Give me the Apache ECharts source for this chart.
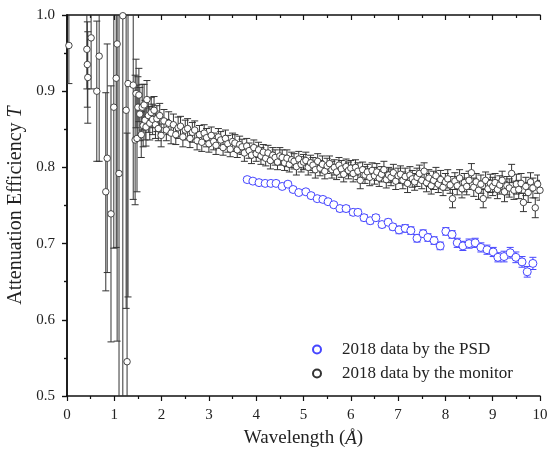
<!DOCTYPE html>
<html><head><meta charset="utf-8">
<script src="https://cdn.jsdelivr.net/npm/echarts@6/dist/echarts.min.js"></script>
<style>html,body{margin:0;padding:0;background:#fff}#c{width:551px;height:452px}</style>
</head><body><div id="c"></div>
<script>
// ---- data ----
const monitorX = [
  0.04,0.42,0.43,0.44,0.51,0.63,0.68,0.82,0.85,0.93,0.99,1.04,1.06,1.10,1.18,1.25,1.27,1.29,
  1.40,1.44,1.46,1.48,1.50,1.52,1.54,1.57,1.59,1.61,1.63,1.65,1.67,1.69,1.72,1.75,1.78,1.81,1.84,1.87,1.90,1.93,1.96,1.99,
  2.05,2.10,2.15,2.20,2.25,2.30,2.35,2.40,2.45,2.50,
  2.55,2.60,2.65,2.70,2.75,2.80,2.85,2.90,2.95,3.00,
  3.05,3.10,3.15,3.20,3.25,3.30,3.35,3.40,3.45,3.50,
  3.55,3.60,3.65,3.70,3.75,3.80,3.85,3.90,3.95,4.00,
  4.05,4.10,4.15,4.20,4.25,4.30,4.35,4.40,4.45,4.50,
  4.55,4.60,4.65,4.70,4.75,4.80,4.85,4.90,4.95,5.00,
  5.05,5.10,5.15,5.20,5.25,5.30,5.35,5.40,5.45,5.50,
  5.55,5.60,5.65,5.70,5.75,5.80,5.85,5.90,5.95,6.00,
  6.05,6.10,6.15,6.20,6.25,6.30,6.35,6.40,6.45,6.50,
  6.55,6.60,6.65,6.70,6.75,6.80,6.85,6.90,6.95,7.00,
  7.05,7.10,7.15,7.20,7.25,7.30,7.35,7.40,7.45,7.50,
  7.55,7.60,7.65,7.70,7.75,7.80,7.85,7.90,7.95,8.00,
  8.05,8.10,8.15,8.20,8.25,8.30,8.35,8.40,8.45,8.50,
  8.55,8.60,8.65,8.70,8.75,8.80,8.85,8.90,8.95,9.00,
  9.05,9.10,9.15,9.20,9.25,9.30,9.35,9.40,9.45,9.50,
  9.55,9.60,9.65,9.70,9.75,9.80,9.85,9.90,9.95,10.00
];
const monitorY = [
  0.960,0.955,0.935,0.918,0.970,0.900,0.946,0.768,0.812,0.739,0.879,0.917,0.962,0.792,0.999,0.875,0.545,0.910,
  0.908,0.836,0.897,0.838,0.879,0.895,0.870,0.843,0.879,0.855,0.882,0.862,0.853,0.889,0.868,0.858,0.872,0.863,0.875,0.856,0.864,0.851,0.868,0.842,
  0.861,0.849,0.858,0.845,0.856,0.843,0.852,0.854,0.840,0.849,
  0.851,0.838,0.846,0.849,0.835,0.843,0.833,0.845,0.839,0.831,
  0.842,0.834,0.829,0.840,0.836,0.826,0.838,0.831,0.824,0.834,
  0.832,0.823,0.830,0.827,0.819,0.828,0.822,0.816,0.826,0.818,
  0.823,0.815,0.820,0.812,0.819,0.809,0.816,0.813,0.807,0.815,
  0.813,0.806,0.812,0.804,0.810,0.808,0.801,0.811,0.804,0.807,
  0.809,0.800,0.806,0.803,0.797,0.808,0.799,0.804,0.795,0.802,
  0.805,0.797,0.800,0.794,0.803,0.798,0.791,0.801,0.796,0.799,
  0.792,0.800,0.795,0.783,0.797,0.790,0.794,0.787,0.796,0.789,
  0.794,0.786,0.791,0.797,0.784,0.790,0.787,0.793,0.782,0.789,
  0.791,0.783,0.788,0.779,0.790,0.785,0.781,0.787,0.792,0.783,
  0.795,0.780,0.786,0.776,0.783,0.789,0.778,0.784,0.774,0.781,
  0.785,0.777,0.759,0.782,0.776,0.786,0.772,0.780,0.775,0.783,
  0.793,0.774,0.781,0.770,0.778,0.759,0.783,0.772,0.779,0.775,
  0.780,0.771,0.777,0.783,0.768,0.776,0.773,0.792,0.770,0.778,
  0.771,0.779,0.754,0.775,0.767,0.781,0.773,0.747,0.778,0.770
];
const monitorErr = [
  0.050,0.052,0.056,0.060,0.067,0.092,0.138,0.130,0.150,0.168,0.185,0.222,0.390,0.300,0.600,0.260,0.300,0.280,
  0.150,0.085,0.045,0.070,0.040,0.035,0.035,0.030,0.030,0.028,0.027,0.026,0.025,0.025,0.022,0.022,0.020,0.020,0.018,0.018,0.017,0.016,0.016,0.015,
  0.015,0.014,0.015,0.014,0.014,0.013,0.014,0.013,0.013,0.013,
  0.013,0.012,0.013,0.012,0.012,0.012,0.012,0.011,0.012,0.011,
  0.011,0.011,0.012,0.011,0.011,0.010,0.011,0.011,0.010,0.011,
  0.011,0.010,0.011,0.010,0.011,0.010,0.010,0.011,0.010,0.010,
  0.010,0.011,0.010,0.010,0.010,0.011,0.010,0.010,0.010,0.011,
  0.010,0.010,0.011,0.010,0.010,0.010,0.011,0.010,0.010,0.010,
  0.011,0.010,0.010,0.010,0.011,0.010,0.010,0.011,0.010,0.010,
  0.010,0.011,0.010,0.010,0.010,0.011,0.010,0.010,0.011,0.010,
  0.011,0.010,0.011,0.011,0.010,0.011,0.010,0.011,0.010,0.011,
  0.011,0.011,0.010,0.011,0.011,0.010,0.011,0.011,0.011,0.010,
  0.011,0.011,0.011,0.012,0.011,0.011,0.011,0.012,0.011,0.011,
  0.011,0.012,0.011,0.011,0.012,0.011,0.011,0.012,0.011,0.011,
  0.012,0.011,0.012,0.011,0.012,0.011,0.012,0.012,0.011,0.012,
  0.012,0.012,0.011,0.012,0.012,0.012,0.011,0.012,0.012,0.012,
  0.012,0.012,0.012,0.012,0.013,0.012,0.012,0.012,0.012,0.013,
  0.012,0.013,0.012,0.012,0.013,0.012,0.013,0.013,0.012,0.013
];
const psdX = [
  3.81,3.93,4.06,4.19,4.31,4.42,4.55,4.67,4.78,4.90,5.05,5.16,5.29,5.41,5.52,5.64,5.77,5.90,6.05,6.15,
  6.28,6.41,6.53,6.66,6.79,6.89,7.02,7.15,7.27,7.40,7.53,7.63,7.76,7.89,8.01,8.14,8.25,8.37,8.50,8.63,
  8.75,8.88,9.01,9.11,9.24,9.37,9.49,9.62,9.73,9.85
];
const psdY = [
  0.784,0.782,0.780,0.779,0.779,0.779,0.775,0.778,0.771,0.767,0.768,0.763,0.759,0.758,0.755,0.751,0.746,0.746,0.741,0.741,
  0.734,0.730,0.734,0.725,0.728,0.722,0.718,0.720,0.717,0.707,0.713,0.708,0.704,0.697,0.716,0.712,0.701,0.697,0.700,0.701,
  0.695,0.692,0.689,0.682,0.683,0.688,0.682,0.676,0.663,0.674
];
const psdErr = [
  0.003,0.003,0.003,0.003,0.003,0.003,0.003,0.003,0.003,0.003,0.003,0.003,0.003,0.003,0.003,0.003,0.004,0.004,0.004,0.004,
  0.004,0.004,0.004,0.004,0.004,0.004,0.005,0.005,0.005,0.005,0.005,0.005,0.005,0.005,0.005,0.005,0.006,0.006,0.006,0.006,
  0.006,0.006,0.006,0.006,0.007,0.007,0.007,0.007,0.007,0.008
];
const seriesNames = ['2018 data by the PSD', '2018 data by the monitor'];
const xTickLabels = ['0','1','2','3','4','5','6','7','8','9','10'];
const yTickLabels = ['0.5','0.6','0.7','0.8','0.9','1.0'];

// ---- chart ----
const FONT = 'Liberation Serif';
const BLUE = '#4646ff';
const monitorData = monitorX.map((x, i) => [x, monitorY[i], monitorErr[i]]);
const psdData = psdX.map((x, i) => [x, psdY[i], psdErr[i]]);

function errBar(color, capHalf, width) {
  return function (params, api) {
    const x = api.value(0), y = api.value(1), e = api.value(2);
    const t = api.coord([x, y + e]);
    const b = api.coord([x, y - e]);
    const style = { stroke: color, lineWidth: width, fill: null };
    return {
      type: 'group',
      children: [
        { type: 'line', shape: { x1: t[0], y1: t[1], x2: b[0], y2: b[1] }, style: style },
        { type: 'line', shape: { x1: t[0] - capHalf, y1: t[1], x2: t[0] + capHalf, y2: t[1] }, style: style },
        { type: 'line', shape: { x1: b[0] - capHalf, y1: b[1], x2: b[0] + capHalf, y2: b[1] }, style: style }
      ]
    };
  };
}

const axisLine = { show: true, lineStyle: { color: '#111', width: 1.5 } };
const labelStyle = { fontFamily: FONT, fontSize: 15, color: '#222' };

const chart = echarts.init(document.getElementById('c'), null, { renderer: 'canvas' });
chart.setOption({
  animation: false,
  backgroundColor: '#fff',
  grid: { left: 67, right: 11, top: 15, bottom: 56, containLabel: false, outerBoundsMode: 'none' },
  legend: {
    orient: 'vertical',
    left: 307, top: 336,
    itemWidth: 40, itemHeight: 8, itemGap: 7,
    textStyle: { fontFamily: FONT, fontSize: 17, color: '#222', lineHeight: 17 },
    data: [
      { name: seriesNames[0], icon: 'circle' },
      { name: seriesNames[1], icon: 'circle' }
    ]
  },
  xAxis: [
    {
      type: 'value', min: 0, max: 10, interval: 1, position: 'bottom',
      axisLine: axisLine,
      axisTick: { show: true, length: 5, lineStyle: { color: '#111', width: 1.2 } },
      minorTick: { show: true, splitNumber: 2, length: 3, lineStyle: { color: '#111', width: 1.2 } },
      splitLine: { show: false },
      axisLabel: Object.assign({ margin: 12, formatter: v => xTickLabels[Math.round(v)] }, labelStyle),
      name: '{a|Wavelength (}{b|Å}{a|)}',
      nameLocation: 'middle', nameGap: 33,
      nameTextStyle: {
        rich: {
          a: { fontFamily: FONT, fontSize: 19, color: '#222' },
          b: { fontFamily: FONT, fontSize: 19, color: '#222', fontStyle: 'italic' }
        }
      }
    },
    {
      type: 'value', min: 0, max: 10, interval: 1, position: 'top',
      axisLine: axisLine,
      axisTick: { show: true, inside: true, length: 5, lineStyle: { color: '#111', width: 1.2 } },
      minorTick: { show: true, splitNumber: 2, length: 3, lineStyle: { color: '#111', width: 1.2 } },
      splitLine: { show: false },
      axisLabel: { show: false }
    }
  ],
  yAxis: [
    {
      type: 'value', min: 0.5, max: 1.0, interval: 0.1, position: 'left',
      axisLine: axisLine,
      axisTick: { show: true, length: 5, lineStyle: { color: '#111', width: 1.2 } },
      minorTick: { show: true, splitNumber: 2, length: 3, lineStyle: { color: '#111', width: 1.2 } },
      splitLine: { show: false },
      axisLabel: Object.assign({ margin: 12, formatter: v => yTickLabels[Math.round((v - 0.5) * 10)] }, labelStyle),
      name: '{a|Attenuation Efficiency }{b|T}',
      nameLocation: 'middle', nameGap: 37,
      nameTextStyle: {
        rich: {
          a: { fontFamily: FONT, fontSize: 20, color: '#222' },
          b: { fontFamily: FONT, fontSize: 20, color: '#222', fontStyle: 'italic' }
        }
      }
    },
    {
      type: 'value', min: 0.5, max: 1.0, interval: 0.1, position: 'right',
      axisLine: axisLine,
      axisTick: { show: true, inside: true, length: 5, lineStyle: { color: '#111', width: 1.2 } },
      minorTick: { show: true, splitNumber: 2, length: 3, lineStyle: { color: '#111', width: 1.2 } },
      splitLine: { show: false },
      axisLabel: { show: false }
    }
  ],
  series: [
    {
      name: 'monitor-err', type: 'custom', xAxisIndex: 0, yAxisIndex: 0, clip: true,
      renderItem: errBar('#333', 3.5, 1), data: monitorData, z: 1, silent: true
    },
    {
      name: seriesNames[1], type: 'scatter', xAxisIndex: 0, yAxisIndex: 0, clip: true,
      data: monitorData, symbol: 'circle', symbolSize: 6.5, z: 2,
      itemStyle: { color: '#fff', borderColor: '#333', borderWidth: 0.9, opacity: 1 }
    },
    {
      name: 'psd-err', type: 'custom', xAxisIndex: 0, yAxisIndex: 0, clip: true,
      renderItem: errBar(BLUE, 3.5, 1), data: psdData, z: 3, silent: true
    },
    {
      name: seriesNames[0], type: 'scatter', xAxisIndex: 0, yAxisIndex: 0, clip: true,
      data: psdData, symbol: 'circle', symbolSize: 8, z: 4,
      itemStyle: { color: '#fff', borderColor: BLUE, borderWidth: 1, opacity: 1 }
    }
  ]
});
</script>
</body></html>
